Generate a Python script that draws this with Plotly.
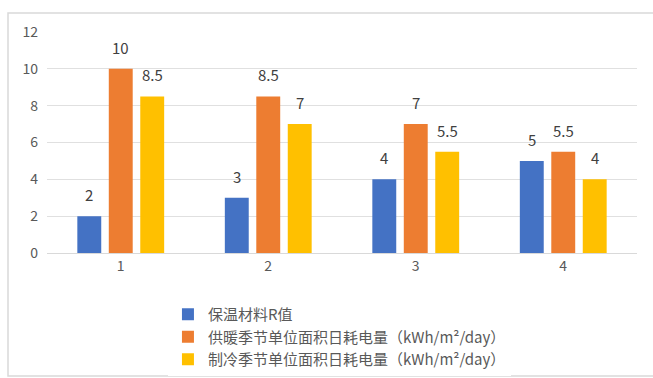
import plotly.graph_objects as go

categories = ["1", "2", "3", "4"]
r_values = [2, 3, 4, 5]
heating = [10, 8.5, 7, 5.5]
cooling = [8.5, 7, 5.5, 4]
series_names = ["保温材料R值", "供暖季节单位面积日耗电量（kWh/m²/day）", "制冷季节单位面积日耗电量（kWh/m²/day）"]
colors = ["#4472C4", "#ED7D31", "#FFC000"]

W, H = 653, 378
ML, MR, MT, MB = 47, 16, 32, 125
BARGAP, GROUPGAP = 0.36, 0.24
plot_w = W - ML - MR
slot = plot_w / len(categories) * (1 - BARGAP) / 3

fig = go.Figure()
annotations = []
for i, (name, vals, col) in enumerate(zip(series_names, [r_values, heating, cooling], colors)):
    fig.add_trace(go.Bar(
        x=categories, y=vals, name=name, marker_color=col,
        marker_line_width=0,
    ))
    for j, v in enumerate(vals):
        annotations.append(dict(
            x=j, y=v, xref="x", yref="y", text=f"{v:g}", showarrow=False,
            xshift=(i - 1) * slot, yshift=9, yanchor="bottom",
            font=dict(size=15, color="#404040", family="Noto Sans CJK SC"),
        ))

fig.update_layout(
    width=W, height=H,
    margin=dict(l=ML, r=MR, t=MT, b=MB),
    paper_bgcolor="white", plot_bgcolor="white",
    barmode="group", bargap=BARGAP, bargroupgap=GROUPGAP,
    font=dict(family="Noto Sans CJK SC", color="#595959", size=13),
    showlegend=True,
    legend=dict(x=0.205, y=1 - 298 / H, yref="container", xanchor="left", yanchor="top",
                font=dict(size=15, color="#595959"), tracegroupgap=0,
                itemwidth=30),
    xaxis=dict(type="category", range=[-0.5, len(categories) - 0.5],
               showgrid=False, showline=True, linecolor="#D9D9D9", linewidth=1,
               ticks="", tickfont=dict(size=14, color="#595959")),
    yaxis=dict(range=[0, 12], dtick=2, showgrid=True, gridcolor="#E0E0E0",
               gridwidth=1, zeroline=False, showline=False, ticks="",
               ticklabelstandoff=8,
               tickfont=dict(size=14, color="#595959")),
    annotations=annotations,
    shapes=[dict(type="rect", xref="paper", yref="paper",
                 x0=-39 / plot_w, x1=613 / plot_w, y0=-123 / 221, y1=240 / 221,
                 line=dict(color="#D9D9D9", width=1.5), layer="below")],
)
fig.write_html("out.html")
